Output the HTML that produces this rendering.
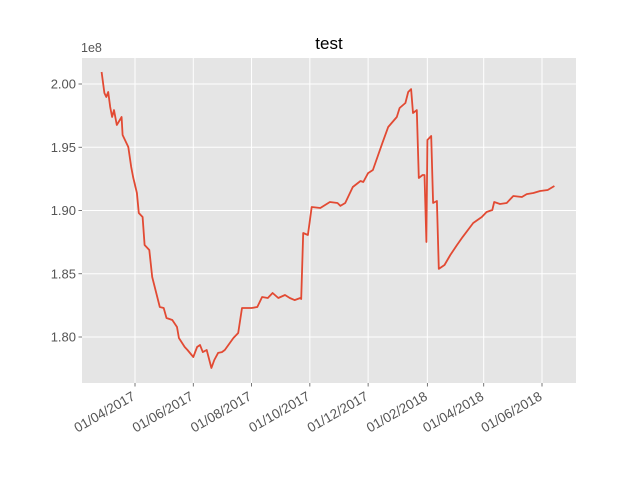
<!DOCTYPE html>
<html><head><meta charset="utf-8"><style>
body{margin:0;background:#fff;}
svg{display:block;font-family:"Liberation Sans","DejaVu Sans",sans-serif;}
</style></head><body>
<svg id="chart" width="640" height="480">
<rect x="0" y="0" width="640" height="480" fill="#fff"/>
<rect x="82" y="58" width="494" height="325" fill="#E5E5E5"/>
<g id="grid"></g>
<g id="series"></g>
<g id="axes"></g>
<text x="329" y="49" font-size="17" text-anchor="middle" fill="#000">test</text>
<text x="81" y="52" font-size="12.5" fill="#555">1e8</text>
</svg>
<script>
const baseDate = "2017-04-01";
const dayOffsets = [-35,-32,-30,-28,-26,-24,-22,-19,-14,-13,-7,-4,-2,2,4,8,10,15,18,26,30,33,39,44,46,52,55,61,65,68,71,75,80,83,87,91,94,103,108,112,117,122,128,133,139,144,150,157,162,167,173,174,176,181,185,194,204,212,215,220,228,236,239,244,249,259,265,274,277,283,286,289,291,295,297,301,303,305,306,310,312,316,318,324,330,337,343,354,363,368,374,376,382,389,396,405,410,417,424,432,439];
const values = [2.0095,1.9929,1.9897,1.9937,1.9818,1.9739,1.9794,1.9676,1.9739,1.9597,1.9502,1.9344,1.9265,1.9138,1.8980,1.8949,1.8727,1.8688,1.8474,1.8237,1.8229,1.8150,1.8134,1.8079,1.7992,1.7921,1.7897,1.7842,1.7921,1.7937,1.7881,1.7897,1.7755,1.7818,1.7874,1.7881,1.7897,1.7992,1.8032,1.8229,1.8229,1.8229,1.8237,1.8316,1.8308,1.8348,1.8308,1.8332,1.8308,1.8292,1.8308,1.8300,1.8822,1.8806,1.9028,1.9020,1.9067,1.9059,1.9036,1.9059,1.9186,1.9233,1.9225,1.9296,1.9320,1.9534,1.9660,1.9739,1.9810,1.9850,1.9937,1.9960,1.9771,1.9794,1.9257,1.9281,1.9281,1.8751,1.9557,1.9589,1.9059,1.9075,1.8538,1.8569,1.8648,1.8727,1.8791,1.8901,1.8949,1.8988,1.9004,1.9067,1.9051,1.9059,1.9115,1.9107,1.9130,1.9138,1.9154,1.9162,1.9194];
const yTicks = [1.80,1.85,1.90,1.95,2.00];
const yTickLabels = ["1.80","1.85","1.90","1.95","2.00"];
const xTickOffsets = [0,61,122,183,244,306,365,426];
const xTickLabels = ["01/04/2017","01/06/2017","01/08/2017","01/10/2017","01/12/2017","01/02/2018","01/04/2018","01/06/2018"];

const NS="http://www.w3.org/2000/svg";
const X0=82,X1=576,Y0=58,Y1=383;
function xs(d){return 135+d*(407/426);}
function ys(v){return 84+(2.00-v)*1265;}
function mk(tag,attrs,parent){const e=document.createElementNS(NS,tag);for(const k in attrs)e.setAttribute(k,attrs[k]);parent.appendChild(e);return e;}
const grid=document.getElementById('grid'),axes=document.getElementById('axes'),series=document.getElementById('series');
yTicks.forEach((v,i)=>{
  const y=ys(v);
  const g=mk('line',{x1:X0,x2:X1,y1:y,y2:y,stroke:'#fff','stroke-width':1},grid);
  
  
  mk('line',{x1:X0-3.5,x2:X0,y1:y,y2:y,stroke:'#555','stroke-width':0.8},axes);
  const t=mk('text',{x:X0-6,y:y+4.5,'font-size':13,'text-anchor':'end',fill:'#555'},axes);
  t.textContent=yTickLabels[i];
  
  
});
xTickOffsets.forEach((d,i)=>{
  const x=xs(d);
  const g=mk('line',{x1:x,x2:x,y1:Y0,y2:Y1,stroke:'#fff','stroke-width':1},grid);
  
  
  mk('line',{x1:x,x2:x,y1:Y1,y2:Y1+3.5,stroke:'#555','stroke-width':0.8},axes);
  const tx=x+1, ty=Y1+16;
  const t=mk('text',{x:tx,y:ty,'font-size':13.5,'text-anchor':'end',fill:'#555',transform:`rotate(-30 ${tx} ${ty})`},axes);
  t.textContent=xTickLabels[i];
  
  
});
const pts=dayOffsets.map((d,i)=>xs(d).toFixed(1)+','+ys(values[i]).toFixed(1)).join(' ');
const line=mk('polyline',{points:pts,fill:'none',stroke:'#E24A33','stroke-width':1.8,'stroke-linejoin':'round'},series);


</script>
</body></html>
